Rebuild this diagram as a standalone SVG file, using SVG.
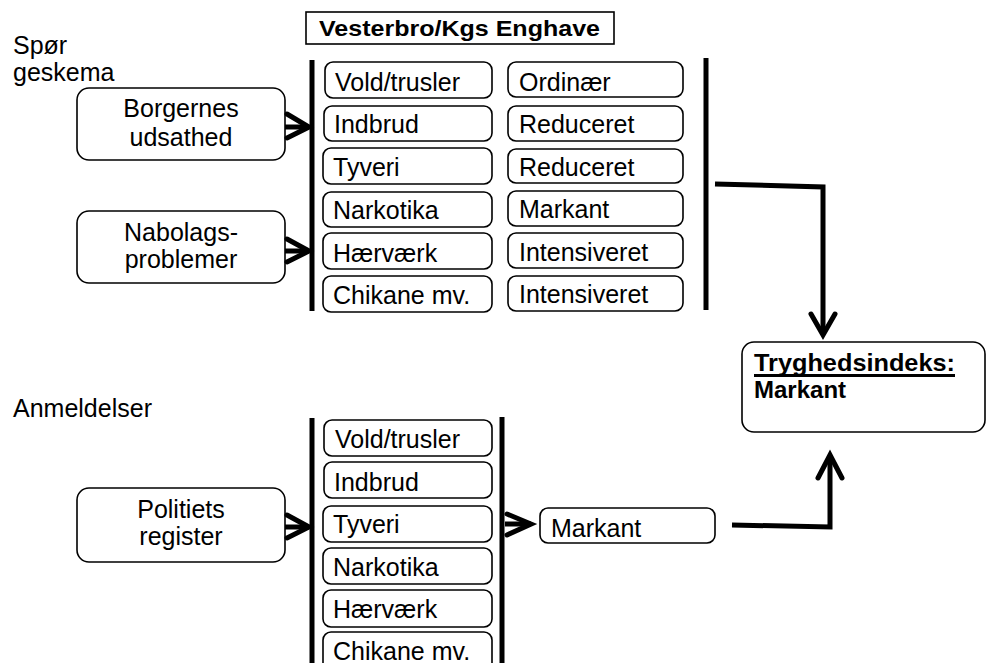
<svg xmlns="http://www.w3.org/2000/svg" width="986" height="663" viewBox="0 0 986 663">
<style>
  text { font-family: "Liberation Sans", Arial, sans-serif; font-size: 25px; fill: #000; }
  .b { font-weight: bold; }
  .c { text-anchor: middle; }
  .box { fill: #fff; stroke: #000; stroke-width: 1.6; }
  .bar { stroke: #000; stroke-width: 5; fill: none; }
  .con { stroke: #000; stroke-width: 5; fill: none; stroke-linecap: butt; stroke-linejoin: miter; }
  .head { stroke: #000; stroke-width: 5; fill: none; stroke-linecap: round; stroke-linejoin: miter; }
</style>
<rect width="986" height="663" fill="#fff"/>

<g id="labels">
  <text x="13" y="54">Spør</text>
  <text x="13" y="81">geskema</text>
  <text x="13" y="417">Anmeldelser</text>
</g>

<g id="title">
  <rect x="306" y="12" width="308" height="32" fill="#fff" stroke="#000" stroke-width="1.6"/>
  <text class="b" x="319" y="36" textLength="281" lengthAdjust="spacingAndGlyphs" style="font-size:22px">Vesterbro/Kgs Enghave</text>
</g>

<g id="borgernes">
  <rect class="box" x="77" y="88" width="208" height="72" rx="12"/>
  <text class="c" x="181" y="117">Borgernes</text>
  <text class="c" x="181" y="146">udsathed</text>
</g>
<g id="nabolag">
  <rect class="box" x="77" y="211" width="208" height="72" rx="12"/>
  <text class="c" x="181" y="241">Nabolags-</text>
  <text class="c" x="181" y="268">problemer</text>
</g>
<g id="politiets">
  <rect class="box" x="77" y="488" width="208" height="74" rx="12"/>
  <text class="c" x="181" y="518">Politiets</text>
  <text class="c" x="181" y="545">register</text>
</g>

<g id="top-categories">
  <rect class="box" x="325" y="62" width="167" height="36" rx="8"/><text x="335" y="91">Vold/trusler</text>
  <rect class="box" x="324" y="106" width="168" height="35" rx="8"/><text x="334" y="133">Indbrud</text>
  <rect class="box" x="323" y="148" width="169" height="36" rx="8"/><text x="333" y="176">Tyveri</text>
  <rect class="box" x="323" y="192" width="169" height="35" rx="8"/><text x="333" y="219">Narkotika</text>
  <rect class="box" x="323" y="233" width="169" height="36" rx="8"/><text x="333" y="262">Hærværk</text>
  <rect class="box" x="323" y="276" width="169" height="36" rx="8"/><text x="333" y="304">Chikane mv.</text>
</g>

<g id="top-levels">
  <rect class="box" x="508" y="62" width="175" height="35" rx="8"/><text x="519" y="91">Ordinær</text>
  <rect class="box" x="508" y="106" width="175" height="35" rx="8"/><text x="519" y="133">Reduceret</text>
  <rect class="box" x="508" y="149" width="175" height="34" rx="8"/><text x="519" y="176">Reduceret</text>
  <rect class="box" x="508" y="191" width="175" height="35" rx="8"/><text x="519" y="218">Markant</text>
  <rect class="box" x="508" y="233" width="175" height="35" rx="8"/><text x="519" y="261">Intensiveret</text>
  <rect class="box" x="508" y="276" width="175" height="35" rx="8"/><text x="519" y="303">Intensiveret</text>
</g>

<g id="bottom-categories">
  <rect class="box" x="324" y="420" width="168" height="36" rx="8"/><text x="335" y="448">Vold/trusler</text>
  <rect class="box" x="324" y="462" width="168" height="36" rx="8"/><text x="334" y="491">Indbrud</text>
  <rect class="box" x="323" y="506" width="169" height="36" rx="8"/><text x="333" y="533">Tyveri</text>
  <rect class="box" x="323" y="548" width="169" height="36" rx="8"/><text x="333" y="576">Narkotika</text>
  <rect class="box" x="323" y="590" width="169" height="37" rx="8"/><text x="333" y="618">Hærværk</text>
  <rect class="box" x="323" y="632" width="169" height="40" rx="8"/><text x="333" y="660">Chikane mv.</text>
</g>

<g id="markant-lower">
  <rect class="box" x="540" y="508" width="175" height="35" rx="8"/>
  <text x="551" y="537">Markant</text>
</g>

<g id="tryghed">
  <rect class="box" x="742" y="342" width="243" height="90" rx="12"/>
  <text class="b" x="754" y="371" textLength="201" lengthAdjust="spacingAndGlyphs" style="font-size:24px">Tryghedsindeks:</text>
  <line x1="754" y1="375.5" x2="955" y2="375.5" stroke="#000" stroke-width="3"/>
  <text class="b" x="754" y="398" style="font-size:24px">Markant</text>
</g>

<g id="connectors">
  <line class="bar" x1="312" y1="60" x2="312" y2="311"/>
  <line class="bar" x1="706" y1="58" x2="706" y2="310"/>
  <line class="bar" x1="312" y1="418" x2="312" y2="663"/>
  <line class="bar" x1="502" y1="417" x2="502" y2="663"/>

  <path class="con" d="M285 127 H309"/>
  <path class="head" d="M287 114 L309 127 L287 138"/>
  <path class="con" d="M285 251 H309"/>
  <path class="head" d="M287 239 L309 251 L287 262"/>
  <path class="con" d="M285 527 H309"/>
  <path class="head" d="M287 515 L309 527 L287 538"/>

  <path class="con" d="M505 524 H531"/>
  <path class="head" d="M507 514 L531 524 L507 535"/>

  <path class="con" d="M715 184 L823 187 V335"/>
  <path class="head" d="M811 314 L823 335 L835 314"/>

  <path class="con" d="M732 525 L830 527 V455"/>
  <path class="head" d="M818 478 L830 455 L842 478"/>
</g>
</svg>
